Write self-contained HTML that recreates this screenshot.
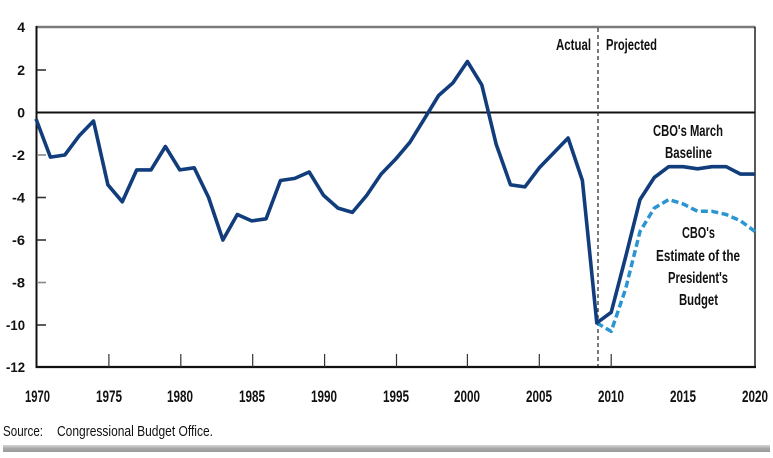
<!DOCTYPE html>
<html><head><meta charset="utf-8"><style>
html,body{margin:0;padding:0;background:#fff;}
svg{display:block;}
text{font-family:"Liberation Sans Narrow","Liberation Sans",sans-serif;fill:#111;}
.b{font-weight:bold;}
</style></head><body>
<svg width="773" height="458" viewBox="0 0 773 458" xmlns="http://www.w3.org/2000/svg">
<defs>
<linearGradient id="g" x1="0" y1="0" x2="0" y2="1">
<stop offset="0" stop-color="#d6d6d6"/><stop offset="0.5" stop-color="#a8a8a8"/><stop offset="1" stop-color="#9a9a9a"/>
</linearGradient>
</defs>
<!-- frame -->
<line x1="36" y1="27" x2="755.5" y2="27" stroke="#7a7a7a" stroke-width="2.5"/>
<line x1="755" y1="27" x2="755" y2="367" stroke="#222" stroke-width="1.5"/>
<line x1="36.5" y1="26" x2="36.5" y2="368" stroke="#111" stroke-width="2"/>
<line x1="35.5" y1="367" x2="756" y2="367" stroke="#111" stroke-width="2.2"/>
<!-- zero line -->
<line x1="36" y1="112.5" x2="755" y2="112.5" stroke="#111" stroke-width="2"/>
<!-- y ticks -->
<g stroke="#333" stroke-width="1.6">
<line x1="37" y1="70" x2="46" y2="70"/>
<line x1="37" y1="155" x2="46" y2="155" stroke="#888"/>
<line x1="37" y1="197.5" x2="46" y2="197.5"/>
<line x1="37" y1="240" x2="46" y2="240"/>
<line x1="37" y1="282.5" x2="46" y2="282.5" stroke="#888"/>
<line x1="37" y1="325" x2="46" y2="325"/>
</g>
<!-- x ticks -->
<g stroke="#333" stroke-width="1.2">
<line x1="108.9" y1="354" x2="108.9" y2="367"/>
<line x1="180.8" y1="354" x2="180.8" y2="367"/>
<line x1="252.7" y1="354" x2="252.7" y2="367"/>
<line x1="324.6" y1="354" x2="324.6" y2="367"/>
<line x1="396.5" y1="354" x2="396.5" y2="367"/>
<line x1="467.4" y1="354" x2="467.4" y2="367"/>
<line x1="539.3" y1="354" x2="539.3" y2="367"/>
<line x1="611.2" y1="354" x2="611.2" y2="367"/>
</g>
<!-- actual/projected divider -->
<line x1="598" y1="28" x2="598" y2="366" stroke="#222" stroke-width="1.2" stroke-dasharray="4,3"/>
<!-- y labels -->
<g class="b" font-size="14" text-anchor="end">
<text x="25" y="32">4</text>
<text x="25" y="75">2</text>
<text x="25" y="117.5">0</text>
<text x="25" y="160" textLength="13" lengthAdjust="spacingAndGlyphs">-2</text>
<text x="25" y="202.5" textLength="13" lengthAdjust="spacingAndGlyphs">-4</text>
<text x="25" y="245" textLength="13" lengthAdjust="spacingAndGlyphs">-6</text>
<text x="25" y="287.5" textLength="13" lengthAdjust="spacingAndGlyphs">-8</text>
<text x="25" y="330" textLength="19" lengthAdjust="spacingAndGlyphs">-10</text>
<text x="25" y="372" textLength="19" lengthAdjust="spacingAndGlyphs">-12</text>
</g>
<!-- x labels -->
<g class="b" font-size="17">
<text x="25" y="402" textLength="25" lengthAdjust="spacingAndGlyphs">1970</text>
<text x="96" y="402" textLength="26" lengthAdjust="spacingAndGlyphs">1975</text>
<text x="167" y="402" textLength="26" lengthAdjust="spacingAndGlyphs">1980</text>
<text x="239" y="402" textLength="26" lengthAdjust="spacingAndGlyphs">1985</text>
<text x="311" y="402" textLength="26" lengthAdjust="spacingAndGlyphs">1990</text>
<text x="383" y="402" textLength="26" lengthAdjust="spacingAndGlyphs">1995</text>
<text x="454" y="402" textLength="26" lengthAdjust="spacingAndGlyphs">2000</text>
<text x="526" y="402" textLength="26" lengthAdjust="spacingAndGlyphs">2005</text>
<text x="598" y="402" textLength="26" lengthAdjust="spacingAndGlyphs">2010</text>
<text x="670" y="402" textLength="26" lengthAdjust="spacingAndGlyphs">2015</text>
<text x="742" y="402" textLength="26" lengthAdjust="spacingAndGlyphs">2020</text>
</g>
<!-- Actual / Projected -->
<g font-size="16" style="font-weight:600">
<text x="556" y="50" textLength="35" lengthAdjust="spacingAndGlyphs">Actual</text>
<text x="606" y="50" textLength="51" lengthAdjust="spacingAndGlyphs">Projected</text>
</g>
<!-- annotations -->
<g font-size="16" style="font-weight:600">
<text x="653" y="136" textLength="70" lengthAdjust="spacingAndGlyphs">CBO's March</text>
<text x="665" y="158" textLength="47" lengthAdjust="spacingAndGlyphs">Baseline</text>
<text x="682" y="238" textLength="33" lengthAdjust="spacingAndGlyphs">CBO's</text>
<text x="656" y="261" textLength="84" lengthAdjust="spacingAndGlyphs">Estimate of the</text>
<text x="668" y="283" textLength="60" lengthAdjust="spacingAndGlyphs">President's</text>
<text x="679" y="305" textLength="39" lengthAdjust="spacingAndGlyphs">Budget</text>
</g>
<!-- series: president's budget (dashed) -->
<polyline fill="none" stroke="#2a95d0" stroke-width="3.5" stroke-dasharray="7,3.5" stroke-linejoin="round"
points="596.8,322.9 611.2,331.4 625.6,288.9 640,231.5 654.3,208.1 668.7,199.6 683.1,203.9 697.5,211.3 711.9,211.3 726.2,214.5 740.6,220.9 755,231.5"/>
<!-- series: baseline/actual -->
<polyline fill="none" stroke="#123d7c" stroke-width="3.6" stroke-linejoin="round"
points="36,118.9 50.4,157.1 64.8,155 79.1,135.9 93.5,121 107.9,184.8 122.3,201.8 136.7,169.9 151,169.9 165.4,146.5 179.8,169.9 194.2,167.8 208.6,197.5 222.9,240 237.3,214.5 251.7,220.9 266.1,218.8 280.5,180.5 294.8,178.4 309.2,172 323.6,195.4 338,208.1 352.4,212.4 366.7,195.4 381.1,174.1 395.5,159.3 409.9,142.3 424.3,118.9 438.6,95.5 453,82.8 467.4,61.5 481.8,84.9 496.2,144.4 510.5,184.8 524.9,186.9 539.3,167.8 553.7,152.9 568.1,138 582.4,180.5 596.8,322.9 611.2,312.3 625.6,257 640,199.6 654.3,177.5 668.7,166.7 683.1,166.7 697.5,168.8 711.9,166.7 726.2,166.7 740.6,174.1 755,174.1"/>
<!-- source -->
<g font-size="15">
<text x="3" y="436" textLength="40" lengthAdjust="spacingAndGlyphs">Source:</text>
<text x="57" y="436" textLength="156" lengthAdjust="spacingAndGlyphs">Congressional Budget Office.</text>
</g>
<rect x="3" y="445" width="767" height="7" fill="url(#g)"/>
</svg>
</body></html>
